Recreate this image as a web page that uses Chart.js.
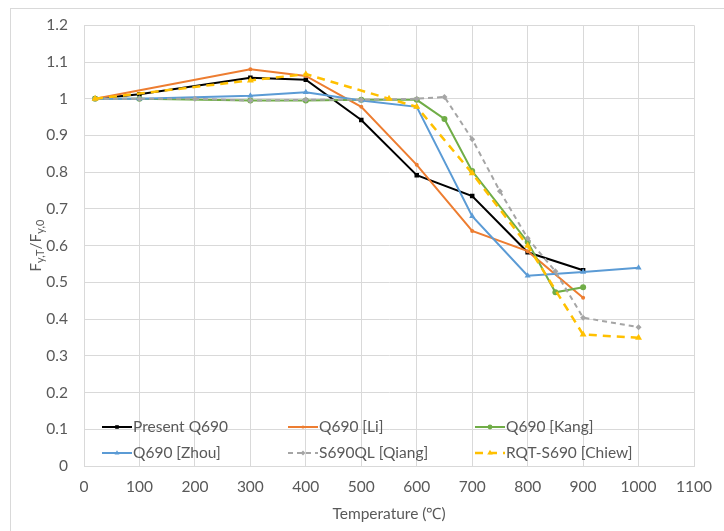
<!DOCTYPE html>
<html>
<head>
<meta charset="utf-8">
<script src="https://cdn.jsdelivr.net/npm/chart.js@4/dist/chart.umd.min.js"></script>
<style>
  html, body { margin: 0; padding: 0; background: #ffffff; }
  canvas { display: block; }
</style>
</head>
<body>
<canvas id="c" width="724" height="531"></canvas>
<script>
// Normalised yield strength F_y,T / F_y,0 versus temperature for Q690-class steels

const presentTemps = [20, 100, 300, 400, 500, 600, 700, 800, 900];
const presentVals  = [1.0, 1.012, 1.057, 1.052, 0.942, 0.792, 0.735, 0.582, 0.533];

const liTemps = [20, 300, 400, 500, 600, 700, 800, 900];
const liVals  = [1.0, 1.08, 1.062, 0.978, 0.82, 0.64, 0.585, 0.458];

const kangTemps = [20, 100, 300, 400, 500, 600, 650, 700, 800, 850, 900];
const kangVals  = [1.0, 1.0, 0.995, 0.995, 0.997, 0.997, 0.945, 0.803, 0.61, 0.473, 0.487];

const zhouTemps = [20, 100, 300, 400, 500, 600, 700, 800, 900, 1000];
const zhouVals  = [1.0, 1.0, 1.008, 1.018, 0.995, 0.978, 0.68, 0.518, 0.528, 0.54];

const qiangTemps = [20, 100, 200, 300, 400, 500, 600, 650, 700, 750, 800, 850, 900, 1000];
const qiangVals  = [1.0, 1.0, 1.0, 0.995, 0.997, 0.997, 1.0, 1.005, 0.89, 0.748, 0.62, 0.53, 0.404, 0.378];

const chiewTemps = [20, 300, 400, 550, 600, 700, 800, 900, 1000];
const chiewVals  = [1.0, 1.05, 1.067, 1.0, 0.978, 0.797, 0.6, 0.358, 0.349];

const seriesNames = ['Present Q690', 'Q690 [Li]', 'Q690 [Kang]', 'Q690 [Zhou]', 'S690QL [Qiang]', 'RQT-S690 [Chiew]'];

const xTicks = [0, 100, 200, 300, 400, 500, 600, 700, 800, 900, 1000, 1100];
const yTicks = [0, 0.1, 0.2, 0.3, 0.4, 0.5, 0.6, 0.7, 0.8, 0.9, 1, 1.1, 1.2];

const FONT = 'Lato, "Liberation Sans", sans-serif';
const TEXT = '#595959';
const GRID = '#d9d9d9';

function pts(t, v) { return t.map((x, i) => ({ x: x, y: v[i] })); }

const styles = [
  { color: '#000000', dash: [],     width: 2,   shape: 'rect',     r: 3.2 },
  { color: '#ED7D31', dash: [],     width: 2,   shape: 'circle',   r: 2 },
  { color: '#70AD47', dash: [],     width: 2,   shape: 'circle',   r: 3 },
  { color: '#5B9BD5', dash: [],     width: 2,   shape: 'triangle', r: 3.5 },
  { color: '#A5A5A5', dash: [5, 4], width: 2,   shape: 'rectRot',  r: 3 },
  { color: '#FFC000', dash: [8, 6], width: 2.5, shape: 'triangle', r: 4 }
];

const seriesData = [
  pts(presentTemps, presentVals),
  pts(liTemps, liVals),
  pts(kangTemps, kangVals),
  pts(zhouTemps, zhouVals),
  pts(qiangTemps, qiangVals),
  pts(chiewTemps, chiewVals)
];

const datasets = seriesData.map((d, i) => ({
  label: seriesNames[i],
  data: d,
  borderColor: styles[i].color,
  backgroundColor: styles[i].color,
  borderWidth: styles[i].width,
  borderDash: styles[i].dash,
  pointStyle: styles[i].shape,
  pointRadius: styles[i].r,
  pointBorderWidth: 0,
  pointBackgroundColor: styles[i].color,
  tension: 0,
  order: seriesData.length - i
}));

// Frame around the figure and white background
const framePlugin = {
  id: 'frame',
  beforeDraw(chart) {
    const ctx = chart.ctx;
    ctx.save();
    ctx.fillStyle = '#ffffff';
    ctx.fillRect(0, 0, chart.width, chart.height);
    ctx.strokeStyle = '#d9d9d9';
    ctx.lineWidth = 1;
    ctx.strokeRect(10.5, 8.5, chart.width + 20, chart.height + 20);
    ctx.restore();
  }
};

// Axis titles (the y title needs subscripts)
const titlesPlugin = {
  id: 'titles',
  afterDraw(chart) {
    const ctx = chart.ctx;
    const area = chart.chartArea;
    ctx.save();
    ctx.fillStyle = TEXT;
    ctx.textBaseline = 'middle';
    ctx.textAlign = 'center';
    ctx.font = '15.5px ' + FONT;
    ctx.fillText('Temperature (\u2103)', (area.left + area.right) / 2, 514);

    const parts = [
      { t: 'F', sub: false }, { t: 'y,T', sub: true },
      { t: '/F', sub: false }, { t: 'y,0', sub: true }
    ];
    const big = '15.5px ' + FONT, small = '11px ' + FONT;
    let total = 0;
    parts.forEach(p => { ctx.font = p.sub ? small : big; p.w = ctx.measureText(p.t).width; total += p.w; });
    ctx.translate(36, (area.top + area.bottom) / 2);
    ctx.rotate(-Math.PI / 2);
    ctx.textAlign = 'left';
    let x = -total / 2;
    parts.forEach(p => {
      ctx.font = p.sub ? small : big;
      ctx.fillText(p.t, x, p.sub ? 4 : 0);
      x += p.w;
    });
    ctx.restore();
  }
};

// Three-column legend laid out inside the plot area
const legendPlugin = {
  id: 'gridLegend',
  afterDatasetsDraw(chart) {
    const ctx = chart.ctx;
    const cols = [102, 288, 475];
    const rows = [427, 453];
    ctx.save();
    chart.data.datasets.forEach((ds, i) => {
      const x0 = cols[i % 3];
      const y = rows[Math.floor(i / 3)];
      ctx.save();
      ctx.strokeStyle = ds.borderColor;
      ctx.lineWidth = ds.borderWidth;
      ctx.setLineDash(ds.borderDash || []);
      ctx.beginPath();
      ctx.moveTo(x0, y);
      ctx.lineTo(x0 + 30, y);
      ctx.stroke();
      ctx.setLineDash([]);
      ctx.fillStyle = ds.pointBackgroundColor;
      Chart.helpers.drawPoint(ctx, { pointStyle: ds.pointStyle, radius: ds.pointRadius * 0.8, borderWidth: 0, rotation: 0 }, x0 + 15, y);
      ctx.restore();
      ctx.fillStyle = TEXT;
      ctx.font = '15.5px ' + FONT;
      ctx.textAlign = 'left';
      ctx.textBaseline = 'middle';
      ctx.fillText(ds.label, x0 + 31, y);
    });
    ctx.restore();
  }
};

new Chart(document.getElementById('c'), {
  type: 'line',
  data: { datasets: datasets },
  options: {
    responsive: false,
    animation: false,
    devicePixelRatio: 1,
    layout: { padding: { left: 0, top: 22, right: 16, bottom: 0 } },
    plugins: { legend: { display: false }, tooltip: { enabled: false } },
    scales: {
      x: {
        type: 'linear',
        min: 0, max: 1100,
        afterBuildTicks(scale) { scale.ticks = xTicks.map(v => ({ value: v })); },
        afterFit(scale) { scale.height = 65; },
        ticks: {
          color: TEXT, font: { family: FONT, size: 15.5 }, padding: 12, maxRotation: 0, autoSkip: false,
          callback: v => String(v)
        },
        grid: { color: GRID, lineWidth: 1, drawTicks: false },
        border: { color: GRID, width: 1 }
      },
      y: {
        type: 'linear',
        min: 0, max: 1.2,
        afterBuildTicks(scale) { scale.ticks = yTicks.map(v => ({ value: v })); },
        afterFit(scale) { scale.width = 84; },
        ticks: {
          color: TEXT, font: { family: FONT, size: 15.5 }, padding: 16, autoSkip: false,
          callback: v => String(Math.round(v * 10) / 10)
        },
        grid: { color: GRID, lineWidth: 1, drawTicks: false },
        border: { color: GRID, width: 1 }
      }
    }
  },
  plugins: [framePlugin, titlesPlugin, legendPlugin]
});
</script>
</body>
</html>
